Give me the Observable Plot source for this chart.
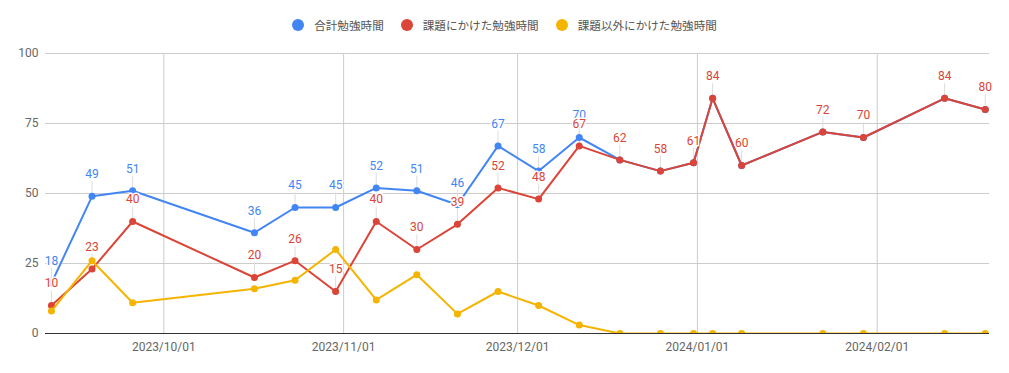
<!DOCTYPE html>
<html><head><meta charset="utf-8">
<script src="https://cdn.jsdelivr.net/npm/d3@7"></script>
<script src="https://cdn.jsdelivr.net/npm/@observablehq/plot@0.6"></script>
<style>
body{margin:0;background:#fff;font-family:Roboto,"Noto Sans CJK JP",sans-serif;}
#legend{height:12px;padding-top:19px;padding-bottom:9px;display:flex;justify-content:center;align-items:center;font-size:11.6px;color:#555;font-family:"Noto Sans CJK JP",Roboto,sans-serif;}
.item{display:flex;align-items:center;margin:0 8.5px;}
.sw{width:12px;height:12px;border-radius:50%;margin-right:10px;}
svg{overflow:visible;font-family:Roboto,"Noto Sans CJK JP",sans-serif;}
</style></head><body>
<div id="legend"></div><div id="chart"></div>
<script>
const dates = ["2023-09-12T00:00+09:00","2023-09-19T00:00+09:00","2023-09-26T00:00+09:00","2023-10-17T00:00+09:00","2023-10-24T00:00+09:00","2023-10-31T00:00+09:00","2023-11-07T00:00+09:00","2023-11-14T00:00+09:00","2023-11-21T00:00+09:00","2023-11-28T00:00+09:00","2023-12-05T00:00+09:00","2023-12-12T00:00+09:00","2023-12-19T00:00+09:00","2023-12-26T00:00+09:00","2023-12-31T17:00+09:00","2024-01-04T00:00+09:00","2024-01-09T00:00+09:00","2024-01-23T00:00+09:00","2024-01-30T00:00+09:00","2024-02-13T00:00+09:00","2024-02-20T00:00+09:00"];
const totalHours = [18,49,51,36,45,45,52,51,46,67,58,70,62,58,61,84,60,72,70,84,80];
const assignmentHours = [10,23,40,20,26,15,40,30,39,52,48,67,62,58,61,84,60,72,70,84,80];
const otherHours = [8,26,11,16,19,30,12,21,7,15,10,3,0,0,0,0,0,0,0,0,0];
const seriesNames = ["合計勉強時間","課題にかけた勉強時間","課題以外にかけた勉強時間"];
const seriesColors = ["#4285f4","#db4437","#f4b400"];
const yTicks = [0,25,50,75,100];
const xTicks = ["2023-10-01T00:00Z","2023-11-01T00:00Z","2023-12-01T00:00Z","2024-01-01T00:00Z","2024-02-01T00:00Z"];
const xDomain = ["2023-09-10T14:24Z","2024-02-20T08:40Z"];

const parse = s => new Date(s);
const rows = dates.map((d,i) => ({date: parse(d), total: totalHours[i], assign: assignmentHours[i], other: otherHours[i]}));
const blueLabeled = rows.filter(r => r.total !== r.assign);

const legend = document.getElementById("legend");
seriesNames.forEach((n,i) => {
  const it = document.createElement("div"); it.className = "item";
  const sw = document.createElement("div"); sw.className = "sw"; sw.style.background = seriesColors[i];
  const t = document.createElement("span"); t.textContent = n;
  it.appendChild(sw); it.appendChild(t); legend.appendChild(it);
});

const stem = 5.2;
const chart = Plot.plot({
  width: 1009, height: 333,
  marginTop: 13, marginBottom: 40, marginLeft: 45, marginRight: 20,
  style: {fontSize: "12px", fontFamily: "Roboto, 'Noto Sans CJK JP', sans-serif", background: "#fff"},
  x: {type: "utc", domain: xDomain.map(parse)},
  y: {domain: [0,100]},
  marks: [
    Plot.gridY(yTicks, {stroke: "#cccccc", strokeOpacity: 1}),
    Plot.gridX(xTicks.map(parse), {stroke: "#cccccc", strokeOpacity: 1}),
    Plot.axisY(yTicks, {tickSize: 0, tickPadding: 7, color: "#666", fontSize: 12}),
    Plot.axisX(xTicks.map(parse), {tickSize: 0, tickPadding: 9, color: "#666", fontSize: 12, tickFormat: d3.utcFormat("%Y/%m/%d")}),
    Plot.ruleX(blueLabeled, {x: "date", y1: "total", y2: d => d.total + stem, stroke: "#dddddd", strokeWidth: 1}),
    Plot.ruleX(rows, {x: "date", y1: "assign", y2: d => d.assign + stem, stroke: "#dddddd", strokeWidth: 1}),
    Plot.line(rows, {x: "date", y: "total", stroke: seriesColors[0], strokeWidth: 2}),
    Plot.dot(rows, {x: "date", y: "total", fill: seriesColors[0], r: 3.5}),
    Plot.line(rows, {x: "date", y: "assign", stroke: seriesColors[1], strokeWidth: 2}),
    Plot.dot(rows, {x: "date", y: "assign", fill: seriesColors[1], r: 3.5}),
    Plot.line(rows, {x: "date", y: "other", stroke: seriesColors[2], strokeWidth: 2, clip: true}),
    Plot.dot(rows, {x: "date", y: "other", fill: seriesColors[2], r: 3.5, clip: true}),
    Plot.ruleY([0], {stroke: "#333", strokeWidth: 1.2}),
    Plot.text(blueLabeled, {x: "date", y: "total", text: d => String(d.total), dy: -22, fill: seriesColors[0], stroke: "white", strokeWidth: 3, paintOrder: "stroke", fontSize: 12}),
    Plot.text(rows, {x: "date", y: "assign", text: d => String(d.assign), dy: -22, fill: seriesColors[1], stroke: "white", strokeWidth: 3, paintOrder: "stroke", fontSize: 12})
  ]
});
document.getElementById("chart").appendChild(chart);
</script>
</body></html>
